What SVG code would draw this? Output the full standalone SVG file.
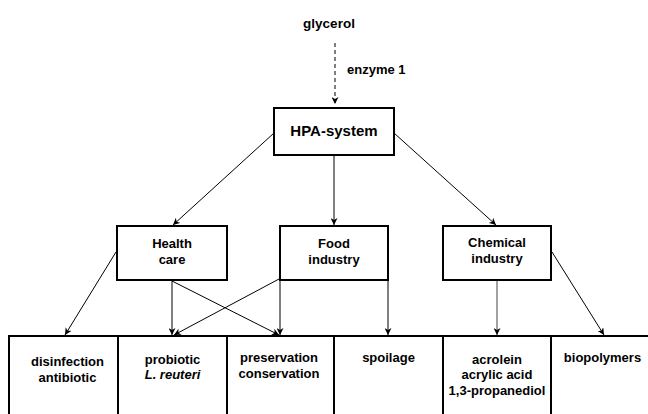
<svg xmlns="http://www.w3.org/2000/svg" width="648" height="414" viewBox="0 0 648 414">
<defs>
<style>
text{font-family:"Liberation Sans",Arial,sans-serif;font-weight:bold;font-size:13px;fill:#000;text-anchor:middle}
.box{fill:#fff;stroke:#000;stroke-width:2}
.ln{fill:none;stroke:#000;stroke-width:1}
.dash{stroke-dasharray:4 3}
</style>
<marker id="ah" viewBox="0 0 10 10" refX="10" refY="5" markerWidth="7" markerHeight="7" markerUnits="userSpaceOnUse" orient="auto">
<path d="M0,0 L10,5 L0,10 L3,5 Z" fill="#000"/>
</marker>
</defs>
<rect width="648" height="414" fill="#fff"/>

<g id="glycerol"><text x="329" y="28" style="font-size:13.5px">glycerol</text></g>

<g id="hpa-system">
<rect class="box" x="274" y="108" width="120" height="47"/>
<text x="334" y="136" style="font-size:15px">HPA-system</text>
</g>

<g id="health-care">
<rect class="box" x="117" y="226" width="110" height="54"/>
<text x="172" y="248">Health</text>
<text x="172" y="264">care</text>
</g>

<g id="food-industry">
<rect class="box" x="280" y="226" width="108" height="54"/>
<text x="334" y="248">Food</text>
<text x="334" y="264">industry</text>
</g>

<g id="chemical-industry">
<rect class="box" x="443" y="226" width="108" height="54"/>
<text x="497" y="247">Chemical</text>
<text x="497" y="263">industry</text>
</g>

<g id="disinfection">
<rect class="box" x="9" y="336" width="109" height="90"/>
<text x="67.5" y="366">disinfection</text>
<text x="67.5" y="382">antibiotic</text>
</g>

<g id="probiotic">
<rect class="box" x="118" y="336" width="109" height="90"/>
<text x="172.5" y="364">probiotic</text>
<text x="172.5" y="379" style="font-style:italic">L. reuteri</text>
</g>

<g id="preservation">
<rect class="box" x="227" y="336" width="107" height="90"/>
<text x="279" y="362">preservation</text>
<text x="279" y="378">conservation</text>
</g>

<g id="spoilage">
<rect class="box" x="334" y="336" width="109" height="90"/>
<text x="388.5" y="362">spoilage</text>
</g>

<g id="acrolein">
<rect class="box" x="443" y="336" width="108" height="90"/>
<text x="497" y="364">acrolein</text>
<text x="497" y="379">acrylic acid</text>
<text x="497" y="395">1,3-propanediol</text>
</g>

<g id="biopolymers">
<rect class="box" x="551" y="336" width="110" height="90"/>
<text x="602.5" y="362">biopolymers</text>
</g>

<g id="connectors">
<line class="ln dash" x1="335" y1="43" x2="335" y2="104" marker-end="url(#ah)"/>
<text x="347" y="74" style="text-anchor:start">enzyme 1</text>
<line class="ln" x1="274" y1="133" x2="173" y2="225" marker-end="url(#ah)"/>
<line class="ln" x1="334" y1="155" x2="334" y2="225" marker-end="url(#ah)"/>
<line class="ln" x1="394" y1="133" x2="496" y2="225" marker-end="url(#ah)"/>
<line class="ln" x1="116" y1="252" x2="65" y2="335" marker-end="url(#ah)"/>
<line class="ln" x1="172" y1="281" x2="172" y2="335" marker-end="url(#ah)"/>
<line class="ln" x1="172" y1="281" x2="279" y2="335" marker-end="url(#ah)"/>
<line class="ln" x1="279" y1="279" x2="174" y2="335" marker-end="url(#ah)"/>
<line class="ln" x1="280" y1="281" x2="280" y2="335" marker-end="url(#ah)"/>
<line class="ln" x1="388" y1="281" x2="388" y2="335" marker-end="url(#ah)"/>
<line class="ln" x1="497" y1="281" x2="497" y2="335" marker-end="url(#ah)" style="stroke:#444"/>
<line class="ln" x1="552" y1="252" x2="604" y2="335" marker-end="url(#ah)"/>
</g>
</svg>
